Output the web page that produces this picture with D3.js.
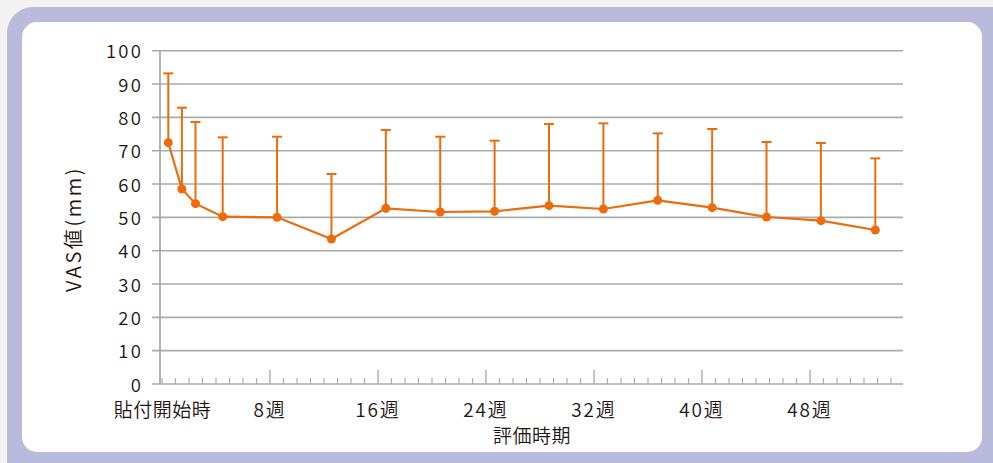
<!DOCTYPE html>
<html><head><meta charset="utf-8">
<script src="https://cdn.jsdelivr.net/npm/d3@7"></script>
<style>
html,body{margin:0;padding:0;background:#f2f2f2;overflow:hidden}
svg{display:block}
text{font-family:"Noto Sans CJK JP","Noto Sans",sans-serif;fill:#1e1412;font-weight:350}
</style></head>
<body>
<svg id="c" width="993" height="463"></svg>
<script>
// ---- data ----
const weeks = [0, 1, 2, 4, 8, 12, 16, 20, 24, 28, 32, 36, 40, 44, 48, 52];
const meanVAS = [72.4, 58.5, 54.1, 50.2, 50.0, 43.5, 52.7, 51.6, 51.8, 53.5, 52.5, 55.1, 52.9, 50.1, 49.0, 46.2];
const upperVAS = [93.2, 82.9, 78.6, 74.0, 74.2, 63.0, 76.2, 74.2, 73.0, 78.0, 78.2, 75.2, 76.5, 72.6, 72.3, 67.7];
const yTicks = [0, 10, 20, 30, 40, 50, 60, 70, 80, 90, 100];
const majorTickWeeks = [0, 8, 16, 24, 32, 40, 48];
const xTickLabels = ["貼付開始時", "8週", "16週", "24週", "32週", "40週", "48週"];
const minorTickWeeks = d3.range(0, 55);
const yTitle = "VAS値(mm)";
const xTitle = "評価時期";

const svg = d3.select("#c");
const orange = "#ec6c0c", grid = "#ababab";

// frame
svg.append("rect").attr("x", 7).attr("y", 7).attr("width", 1020).attr("height", 500)
  .attr("rx", 26).attr("fill", "#babadd");
svg.append("rect").attr("x", 22).attr("y", 22).attr("width", 960).attr("height", 430)
  .attr("rx", 15).attr("fill", "#ffffff");

// scales
const y = d3.scaleLinear().domain([0, 100]).range([384, 50.7]);
const xPt = d3.scaleLinear().domain([0, 52]).range([168.3, 875.3]);
const xTk = d3.scaleLinear().domain([0, 54]).range([162, 891]);
const axisLeft = 160, gridLeft = 152, gridRight = 903;

// grid lines
svg.append("g").selectAll("line").data(yTicks).join("line")
  .attr("x1", gridLeft).attr("x2", gridRight)
  .attr("y1", d => y(d)).attr("y2", d => y(d))
  .attr("stroke", grid).attr("stroke-width", 1.6);
// y axis line
svg.append("line").attr("x1", axisLeft).attr("x2", axisLeft)
  .attr("y1", y(100)).attr("y2", y(0)).attr("stroke", grid).attr("stroke-width", 1.8);

// y tick labels
svg.append("g").selectAll("text").data(yTicks).join("text")
  .attr("x", 143).attr("y", d => y(d) - 0.5)
  .attr("text-anchor", "end").attr("dominant-baseline", "central")
  .attr("font-size", 18.5).attr("letter-spacing", 2.2).text(d => d);

// x ticks
svg.append("g").selectAll("line").data(minorTickWeeks.filter(w => !majorTickWeeks.includes(w) || w === 0)).join("line")
  .attr("x1", d => xTk(d)).attr("x2", d => xTk(d))
  .attr("y1", y(0) - 6).attr("y2", y(0))
  .attr("stroke", grid).attr("stroke-width", 1.2);
svg.append("g").selectAll("line").data(majorTickWeeks.slice(1)).join("line")
  .attr("x1", d => xTk(d)).attr("x2", d => xTk(d))
  .attr("y1", y(0) - 14).attr("y2", y(0))
  .attr("stroke", grid).attr("stroke-width", 1.4);

// x tick labels
svg.append("g").selectAll("text").data(majorTickWeeks).join("text")
  .attr("x", (d, i) => xTk(d) + (i === 0 ? 0.5 : 0)).attr("y", 408)
  .attr("text-anchor", "middle").attr("dominant-baseline", "central")
  .attr("font-size", 19).attr("letter-spacing", (d, i) => i === 0 ? 0.5 : 1.8)
  .text((d, i) => xTickLabels[i]);

// axis titles
svg.append("text").attr("x", 532).attr("y", 434)
  .attr("text-anchor", "middle").attr("dominant-baseline", "central")
  .attr("font-size", 19).attr("letter-spacing", 0.5).text(xTitle);
svg.append("text").attr("transform", "translate(72,229) rotate(-90)")
  .attr("text-anchor", "middle").attr("dominant-baseline", "central")
  .attr("font-size", 20).attr("letter-spacing", 2.6).text(yTitle);

// error bars
const eb = svg.append("g").attr("stroke", orange).attr("stroke-width", 2);
eb.selectAll("line.v").data(weeks).join("line").attr("class", "v")
  .attr("x1", d => xPt(d)).attr("x2", d => xPt(d))
  .attr("y1", (d, i) => y(meanVAS[i])).attr("y2", (d, i) => y(upperVAS[i]));
eb.selectAll("line.c").data(weeks).join("line").attr("class", "c")
  .attr("x1", d => xPt(d) - 5).attr("x2", d => xPt(d) + 5)
  .attr("y1", (d, i) => y(upperVAS[i])).attr("y2", (d, i) => y(upperVAS[i]));

// line
svg.append("path").datum(weeks)
  .attr("d", d3.line().x(d => xPt(d)).y((d, i) => y(meanVAS[i])))
  .attr("fill", "none").attr("stroke", orange).attr("stroke-width", 2.2);
// points
svg.append("g").selectAll("circle").data(weeks).join("circle")
  .attr("cx", d => xPt(d)).attr("cy", (d, i) => y(meanVAS[i]))
  .attr("r", 4.5).attr("fill", orange);
</script>
</body></html>
